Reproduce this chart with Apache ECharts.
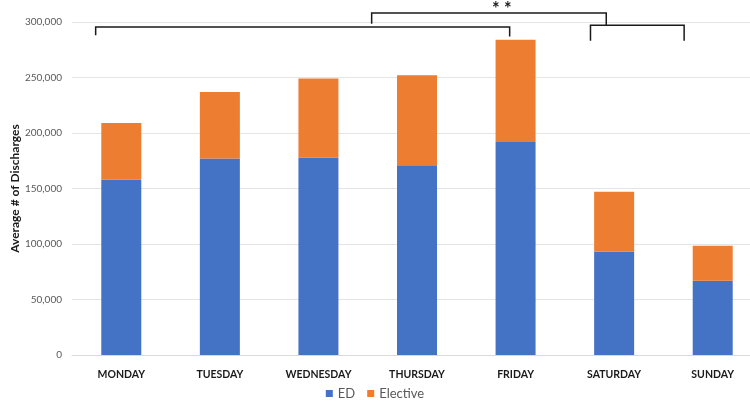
<!DOCTYPE html>
<html>
<head>
<meta charset="utf-8">
<script src="https://cdn.jsdelivr.net/npm/echarts@6/dist/echarts.min.js"></script>
<style>html,body{margin:0;padding:0;background:#fff}#c{width:750px;height:409px}</style>
</head>
<body>
<div id="c"></div>
<script>
const categories = ['MONDAY','TUESDAY','WEDNESDAY','THURSDAY','FRIDAY','SATURDAY','SUNDAY'];
const edValues = [158000, 177000, 178000, 171000, 192000, 93000, 67000];
const electiveValues = [51000, 60000, 71000, 81000, 92000, 54000, 31500];
const yTicks = [0, 50000, 100000, 150000, 200000, 250000, 300000];
// significance brackets: [category index (fractional), value]
const bracketMain = [[-0.26, 288000], [-0.26, 295500], [3.94, 295500], [3.94, 287000]];
const bracketWeekend = [[4.76, 283000], [4.76, 297000], [5.71, 297000], [5.71, 283000]];
const bracketTop = [[2.54, 298500], [2.54, 308000], [4.92, 308000], [4.92, 297000]];
const starLabel = '* *';
const starPos = [3.86, 311500];

const chart = echarts.init(document.getElementById('c'));
const font = 'Lato, "Open Sans", sans-serif';
chart.setOption({
  animation: false,
  grid: {left: 72, right: -12, top: 22, bottom: 54, outerBoundsMode: 'none', containLabel: false},
  legend: {
    bottom: 4, left: 'center',
    data: ['ED', 'Elective'],
    icon: 'rect', itemWidth: 7, itemHeight: 7, itemGap: 12,
    textStyle: {color: '#595959', fontSize: 13, fontFamily: font}
  },
  xAxis: {
    type: 'category', data: categories,
    axisLine: {lineStyle: {color: '#d9d9d9'}},
    axisTick: {show: false},
    axisLabel: {color: '#1a1a1a', fontSize: 10.5, fontWeight: 'bold', fontFamily: font, margin: 14}
  },
  yAxis: {
    type: 'value', min: 0, max: 300000, interval: 50000,
    name: 'Average # of Discharges', nameLocation: 'middle', nameGap: 51,
    nameMoveOverlap: false,
    nameTextStyle: {color: '#1a1a1a', fontSize: 12, fontWeight: 'bold', fontFamily: font},
    axisLine: {show: false}, axisTick: {show: false},
    axisLabel: {color: '#595959', fontSize: 10, fontFamily: font, margin: 10,
      formatter: v => yTicks.includes(v) ? v.toLocaleString('en-US') : ''},
    splitLine: {lineStyle: {color: '#e4e4e4'}}
  },
  series: [
    {name: 'ED', type: 'bar', stack: 't', data: edValues, barWidth: 40, itemStyle: {color: '#4472C4'}},
    {name: 'Elective', type: 'bar', stack: 't', data: electiveValues, barWidth: 40, itemStyle: {color: '#ED7D31'}}
  ]
});

function px(pt) {
  const p0 = chart.convertToPixel({gridIndex: 0}, [0, pt[1]]);
  const p1 = chart.convertToPixel({gridIndex: 0}, [1, pt[1]]);
  return [p0[0] + pt[0] * (p1[0] - p0[0]), p0[1]];
}
function bracket(pts) {
  return {type: 'polyline', shape: {points: pts.map(px)}, style: {stroke: '#1a1a1a', lineWidth: 1.5, fill: null}};
}
const sp = px(starPos);
chart.setOption({
  graphic: [
    bracket(bracketMain), bracket(bracketWeekend), bracket(bracketTop),
    {type: 'text', x: sp[0], y: sp[1], style: {text: starLabel, fontSize: 18, fontWeight: 'bold', fill: '#1a1a1a', align: 'center', verticalAlign: 'middle', fontFamily: font}}
  ]
});
</script>
</body>
</html>
